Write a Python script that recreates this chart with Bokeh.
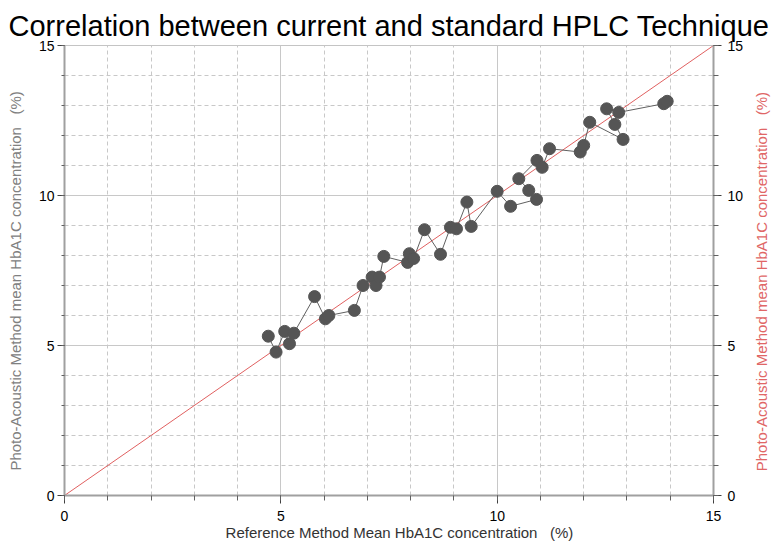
import math

from bokeh.plotting import figure
from bokeh.models import (LinearAxis, Range1d, SingleIntervalTicker,
                          ColumnDataSource, Label)
from bokeh.embed import file_html
from bokeh.resources import INLINE

# Paired HbA1C measurements (%), in sample order
reference_pct = [4.71, 4.89, 5.09, 5.20, 5.30, 5.78, 6.03, 6.11, 6.70, 6.90,
                 7.11, 7.20, 7.28, 7.38, 7.93, 7.97, 8.07, 8.32, 8.69, 8.92,
                 9.06, 9.30, 9.40, 10.00, 10.31, 10.91, 10.73, 10.50, 10.92, 11.04,
                 11.21, 11.92, 12.00, 12.14, 12.91, 12.72, 12.53, 12.81, 13.85, 13.93]
photoacoustic_pct = [5.31, 4.78, 5.47, 5.06, 5.41, 6.63, 5.89, 6.00, 6.17, 7.00,
                     7.28, 7.00, 7.28, 7.97, 7.77, 8.06, 7.90, 8.86, 8.04, 8.94,
                     8.89, 9.78, 8.97, 10.14, 9.64, 9.87, 10.17, 10.56, 11.17, 10.94,
                     11.56, 11.45, 11.67, 12.44, 11.87, 12.37, 12.89, 12.77, 13.06, 13.14]

# Line of identity
identity = [0, 15]

axis_range = (0, 15)
NB = "\u00a0"
title_text = "Correlation between current and standard HPLC Technique"
x_label = NB * 5 + "Reference Method Mean HbA1C concentration" + NB * 3 + "(%)"
y_text = "Photo-Acoustic Method mean HbA1C concentration" + NB * 3 + "(%)"
y_label = y_text + NB * 5

FONT = "Liberation Sans"

p = figure(width=771, height=544, output_backend="svg", toolbar_location=None,
           x_range=Range1d(*axis_range), y_range=Range1d(*axis_range),
           x_axis_location=None, y_axis_location=None,
           min_border_left=64, min_border_right=58, min_border_top=45,
           min_border_bottom=49)

p.title.text = title_text
p.title.align = "center"
p.title.text_font = FONT
p.title.text_font_size = "29px"
p.title.text_font_style = "normal"
p.title.text_color = "black"
p.title.offset = 0
p.title.standoff = 7

p.background_fill_color = "white"
p.border_fill_color = "white"
p.outline_line_color = "#c4c4c4"
p.outline_line_width = 1


def make_ticker():
    return SingleIntervalTicker(interval=5, num_minor_ticks=5)


def style_axis(ax, label, label_color, label_standoff, major_out, minor_out):
    ax.axis_label = label
    ax.axis_label_text_font = FONT
    ax.axis_label_text_font_size = "15px"
    ax.axis_label_text_font_style = "normal"
    ax.axis_label_text_color = label_color
    ax.axis_label_standoff = label_standoff
    ax.major_label_text_font = FONT
    ax.major_label_text_font_size = "14px"
    ax.major_label_text_color = "black"
    ax.axis_line_color = "#a0a0a0"
    ax.axis_line_width = 2
    ax.major_tick_line_color = "#404040"
    ax.minor_tick_line_color = "#606060"
    ax.major_tick_out = major_out
    ax.major_tick_in = 0
    ax.minor_tick_out = minor_out
    ax.minor_tick_in = 0


bottom = LinearAxis(ticker=make_ticker())
style_axis(bottom, x_label, "#333333", 0, 8, 5)
bottom.major_label_standoff = 7
p.add_layout(bottom, "below")

left = LinearAxis(ticker=make_ticker())
style_axis(left, y_label, "#808080", 12, 7, 3)
left.major_label_standoff = 3
p.add_layout(left, "left")

p.extra_y_ranges = {"right": Range1d(*axis_range)}
right = LinearAxis(ticker=make_ticker(), y_range_name="right")
style_axis(right, None, "#e06666", 0, 8, 5)
right.major_label_standoff = 6
p.add_layout(right, "right")

# Right-hand title, reading bottom-to-top like the left one
right_title = Label(x=16.1, y=7.13, text=y_text, angle=math.pi / 2,
                    text_align="center", text_baseline="middle",
                    text_font=FONT, text_font_size="15px",
                    text_color="#e06666")
p.add_layout(right_title, "right")

# Grid: solid at labelled ticks, dashed at every unit in between
for g in (p.xgrid, p.ygrid):
    g.ticker = make_ticker()
    g.grid_line_color = "#c8c8c8"
    g.grid_line_width = 1
    g.minor_grid_line_color = "#c8c8c8"
    g.minor_grid_line_dash = "4 3"
    g.minor_grid_line_width = 1

src = ColumnDataSource(data=dict(x=reference_pct, y=photoacoustic_pct))

p.line(identity, identity, line_color="#e06060", line_width=1)
p.line("x", "y", source=src, line_color="#606060", line_width=1)
p.scatter("x", "y", source=src, size=12, fill_color="#555555",
          line_color="#555555")

open("out.html", "w").write(file_html(p, INLINE))
